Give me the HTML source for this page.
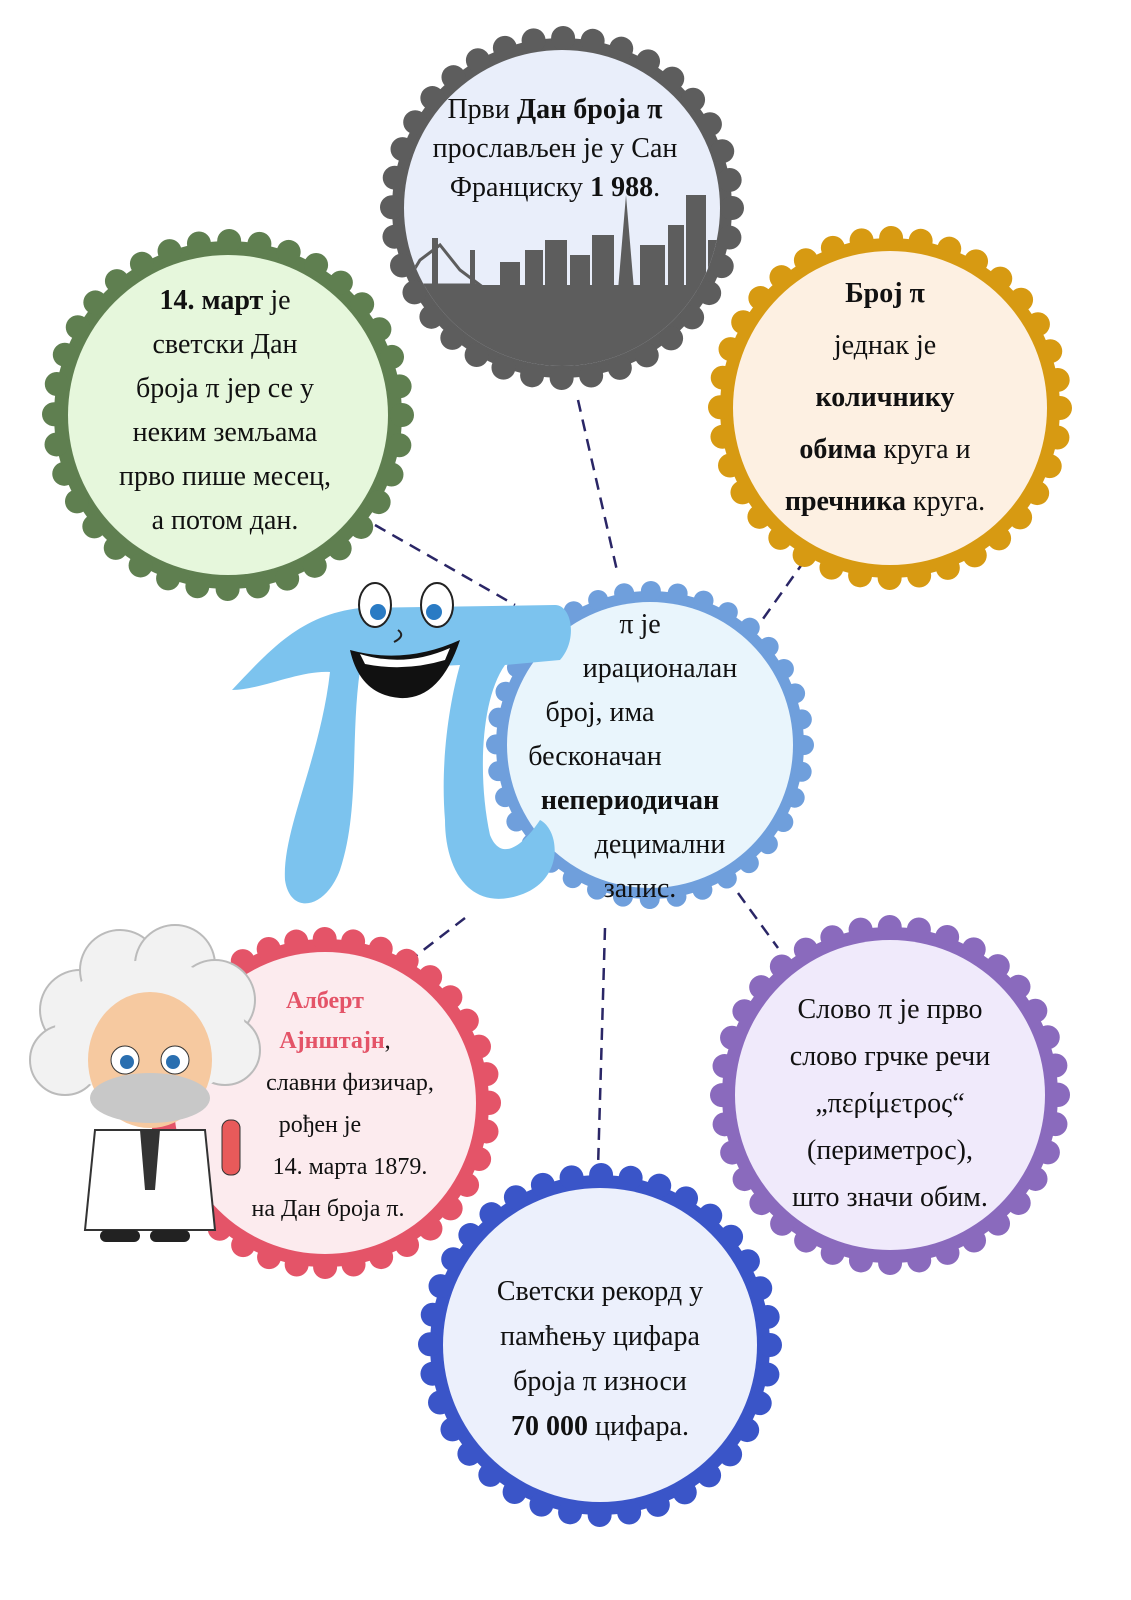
<!DOCTYPE html>
<html><head><meta charset="utf-8"><style>
html,body{margin:0;padding:0;background:#fff}
svg{display:block}
text{font-family:"Liberation Serif","DejaVu Serif",serif;font-size:28px;fill:#111}
.b{font-weight:bold}
</style></head><body>
<svg width="1131" height="1600" viewBox="0 0 1131 1600" xmlns="http://www.w3.org/2000/svg">
<g stroke="#2a2666" stroke-width="2.5" stroke-dasharray="12 8" fill="none">
<line x1="375" y1="525" x2="515" y2="605"/>
<line x1="578" y1="400" x2="618" y2="575"/>
<line x1="805" y1="560" x2="755" y2="630"/>
<line x1="465" y1="918" x2="400" y2="968"/>
<line x1="605" y1="928" x2="598" y2="1168"/>
<line x1="738" y1="893" x2="778" y2="948"/>
</g>
<g>
<circle cx="562" cy="208" r="170" fill="#5d5d5d"/>
<circle cx="562" cy="208" r="170" fill="none" stroke="#5d5d5d" stroke-width="24" stroke-linecap="round" stroke-dasharray="0 29.7"/>
<circle cx="562" cy="208" r="158" fill="#e9eefa"/>

<circle cx="228" cy="415" r="174" fill="#5f7f50"/>
<circle cx="228" cy="415" r="174" fill="none" stroke="#5f7f50" stroke-width="24" stroke-linecap="round" stroke-dasharray="0 30.4"/>
<circle cx="228" cy="415" r="160" fill="#e6f7dc"/>

<circle cx="890" cy="408" r="170" fill="#d79a12"/>
<circle cx="890" cy="408" r="170" fill="none" stroke="#d79a12" stroke-width="24" stroke-linecap="round" stroke-dasharray="0 29.7"/>
<circle cx="890" cy="408" r="157" fill="#fdf0e2"/>

<circle cx="650" cy="745" r="154" fill="#6f9fdc"/>
<circle cx="650" cy="745" r="154" fill="none" stroke="#6f9fdc" stroke-width="20" stroke-linecap="round" stroke-dasharray="0 26.9"/>
<circle cx="650" cy="745" r="143" fill="#e9f5fc"/>

<circle cx="325" cy="1103" r="164" fill="#e45468"/>
<circle cx="325" cy="1103" r="164" fill="none" stroke="#e45468" stroke-width="24" stroke-linecap="round" stroke-dasharray="0 28.6"/>
<circle cx="325" cy="1103" r="151" fill="#fcebee"/>

<circle cx="890" cy="1095" r="168" fill="#8a6abd"/>
<circle cx="890" cy="1095" r="168" fill="none" stroke="#8a6abd" stroke-width="24" stroke-linecap="round" stroke-dasharray="0 29.3"/>
<circle cx="890" cy="1095" r="155" fill="#f0eafb"/>

<circle cx="600" cy="1345" r="170" fill="#3a55c8"/>
<circle cx="600" cy="1345" r="170" fill="none" stroke="#3a55c8" stroke-width="24" stroke-linecap="round" stroke-dasharray="0 29.7"/>
<circle cx="600" cy="1345" r="157" fill="#ecf0fc"/>
</g>
<clipPath id="cg"><circle cx="562" cy="208" r="158"/></clipPath>
<g clip-path="url(#cg)" fill="#5d5d5d">
<rect x="380" y="285" width="360" height="120"/>
<path d="M405 285 L420 260 L440 245 L460 270 L480 285 Z" fill="none" stroke="#5d5d5d" stroke-width="3"/>
<rect x="432" y="238" width="6" height="50"/><rect x="470" y="250" width="5" height="40"/>
<rect x="500" y="262" width="20" height="30"/><rect x="525" y="250" width="18" height="40"/>
<rect x="545" y="240" width="22" height="50"/><rect x="570" y="255" width="20" height="35"/>
<rect x="592" y="235" width="22" height="55"/><polygon points="618,290 626,195 634,290"/>
<rect x="640" y="245" width="25" height="45"/><rect x="668" y="225" width="16" height="65"/>
<rect x="686" y="195" width="20" height="95"/><rect x="708" y="240" width="20" height="50"/>
</g>
<g fill="#7cc3ee">
<path d="M232 690 C270 650 300 615 360 608 L555 605 C572 605 578 640 560 660 L505 665 C480 700 478 780 490 835 C500 860 520 850 540 820 C560 830 565 880 520 895 C470 912 445 870 445 820 C440 760 450 700 460 665 L360 670 C350 740 360 810 340 870 C325 910 290 915 285 880 C282 830 320 760 330 672 C300 670 260 690 232 690 Z"/>
</g>
<ellipse cx="375" cy="605" rx="16" ry="22" fill="#fff" stroke="#222" stroke-width="2"/>
<ellipse cx="437" cy="605" rx="16" ry="22" fill="#fff" stroke="#222" stroke-width="2"/>
<circle cx="378" cy="612" r="8" fill="#2a7bc4"/><circle cx="434" cy="612" r="8" fill="#2a7bc4"/>
<path d="M350 650 Q405 665 460 640 Q440 700 400 698 Q360 695 350 650 Z" fill="#111"/>
<path d="M360 654 Q405 668 450 648 L445 660 Q405 672 365 664 Z" fill="#fff"/>
<path d="M398 630 q8 6 -4 12" fill="none" stroke="#222" stroke-width="2"/>
<g>
<g fill="#f2f2f2" stroke="#bbb" stroke-width="2">
<circle cx="80" cy="1010" r="40"/><circle cx="120" cy="970" r="40"/><circle cx="175" cy="965" r="40"/><circle cx="215" cy="1000" r="40"/><circle cx="225" cy="1050" r="35"/><circle cx="65" cy="1060" r="35"/>
</g>
<ellipse cx="150" cy="1030" rx="95" ry="70" fill="#f2f2f2"/>
<ellipse cx="150" cy="1060" rx="62" ry="68" fill="#f6c9a0"/>
<ellipse cx="150" cy="1098" rx="60" ry="25" fill="#c8c8c8"/>
<circle cx="125" cy="1060" r="14" fill="#fff" stroke="#333"/><circle cx="175" cy="1060" r="14" fill="#fff" stroke="#333"/>
<circle cx="127" cy="1062" r="7" fill="#2a6fb0"/><circle cx="173" cy="1062" r="7" fill="#2a6fb0"/>
<path d="M95 1130 L205 1130 L215 1230 L85 1230 Z" fill="#fff" stroke="#333" stroke-width="2"/>
<path d="M140 1130 L160 1130 L155 1190 L145 1190 Z" fill="#333"/>
<rect x="100" y="1230" width="40" height="12" rx="6" fill="#222"/><rect x="150" y="1230" width="40" height="12" rx="6" fill="#222"/>
<rect x="222" y="1120" width="18" height="55" rx="8" fill="#e85a5a" stroke="#333"/>
</g>
<g text-anchor="middle">
<text x="555" y="118">Први <tspan class="b">Дан броја π</tspan></text>
<text x="555" y="157">прослављен је  у Сан</text>
<text x="555" y="196">Франциску <tspan class="b">1 988</tspan>.</text>

<text x="225" y="309"><tspan class="b">14. март</tspan> је</text>
<text x="225" y="353">светски Дан</text>
<text x="225" y="397">броја π јер се у</text>
<text x="225" y="441">неким земљама</text>
<text x="225" y="485">прво пише месец,</text>
<text x="225" y="529">а потом дан.</text>

<text x="885" y="302" class="b">Број π</text>
<text x="885" y="354">једнак је</text>
<text x="885" y="406" class="b">количнику</text>
<text x="885" y="458"><tspan class="b">обима</tspan> круга и</text>
<text x="885" y="510"><tspan class="b">пречника</tspan> круга.</text>

<text x="640" y="633">π је</text>
<text x="660" y="677">ирационалан</text>
<text x="600" y="721">број, има</text>
<text x="595" y="765">бесконачан</text>
<text x="630" y="809" class="b">непериодичан</text>
<text x="660" y="853">децимални</text>
<text x="640" y="897">запис.</text>

<text x="325" y="1008" class="b" style="fill:#e45468;font-size:24px">Алберт</text>
<text x="335" y="1048" style="font-size:24px"><tspan class="b" style="fill:#e45468">Ајнштајн</tspan>,</text>
<text x="350" y="1090" style="font-size:24px">славни физичар,</text>
<text x="320" y="1132" style="font-size:24px">рођен је</text>
<text x="350" y="1174" style="font-size:24px">14. марта 1879.</text>
<text x="328" y="1216" style="font-size:24px">на Дан броја π.</text>

<text x="890" y="1018">Слово π је прво</text>
<text x="890" y="1065">слово грчке речи</text>
<text x="890" y="1112">„περίμετρος“</text>
<text x="890" y="1159">(периметрос),</text>
<text x="890" y="1206">што значи обим.</text>

<text x="600" y="1300">Светски рекорд у</text>
<text x="600" y="1345">памћењу цифара</text>
<text x="600" y="1390">броја π износи</text>
<text x="600" y="1435"><tspan class="b">70 000</tspan> цифара.</text>
</g>
</svg>
</body></html>
